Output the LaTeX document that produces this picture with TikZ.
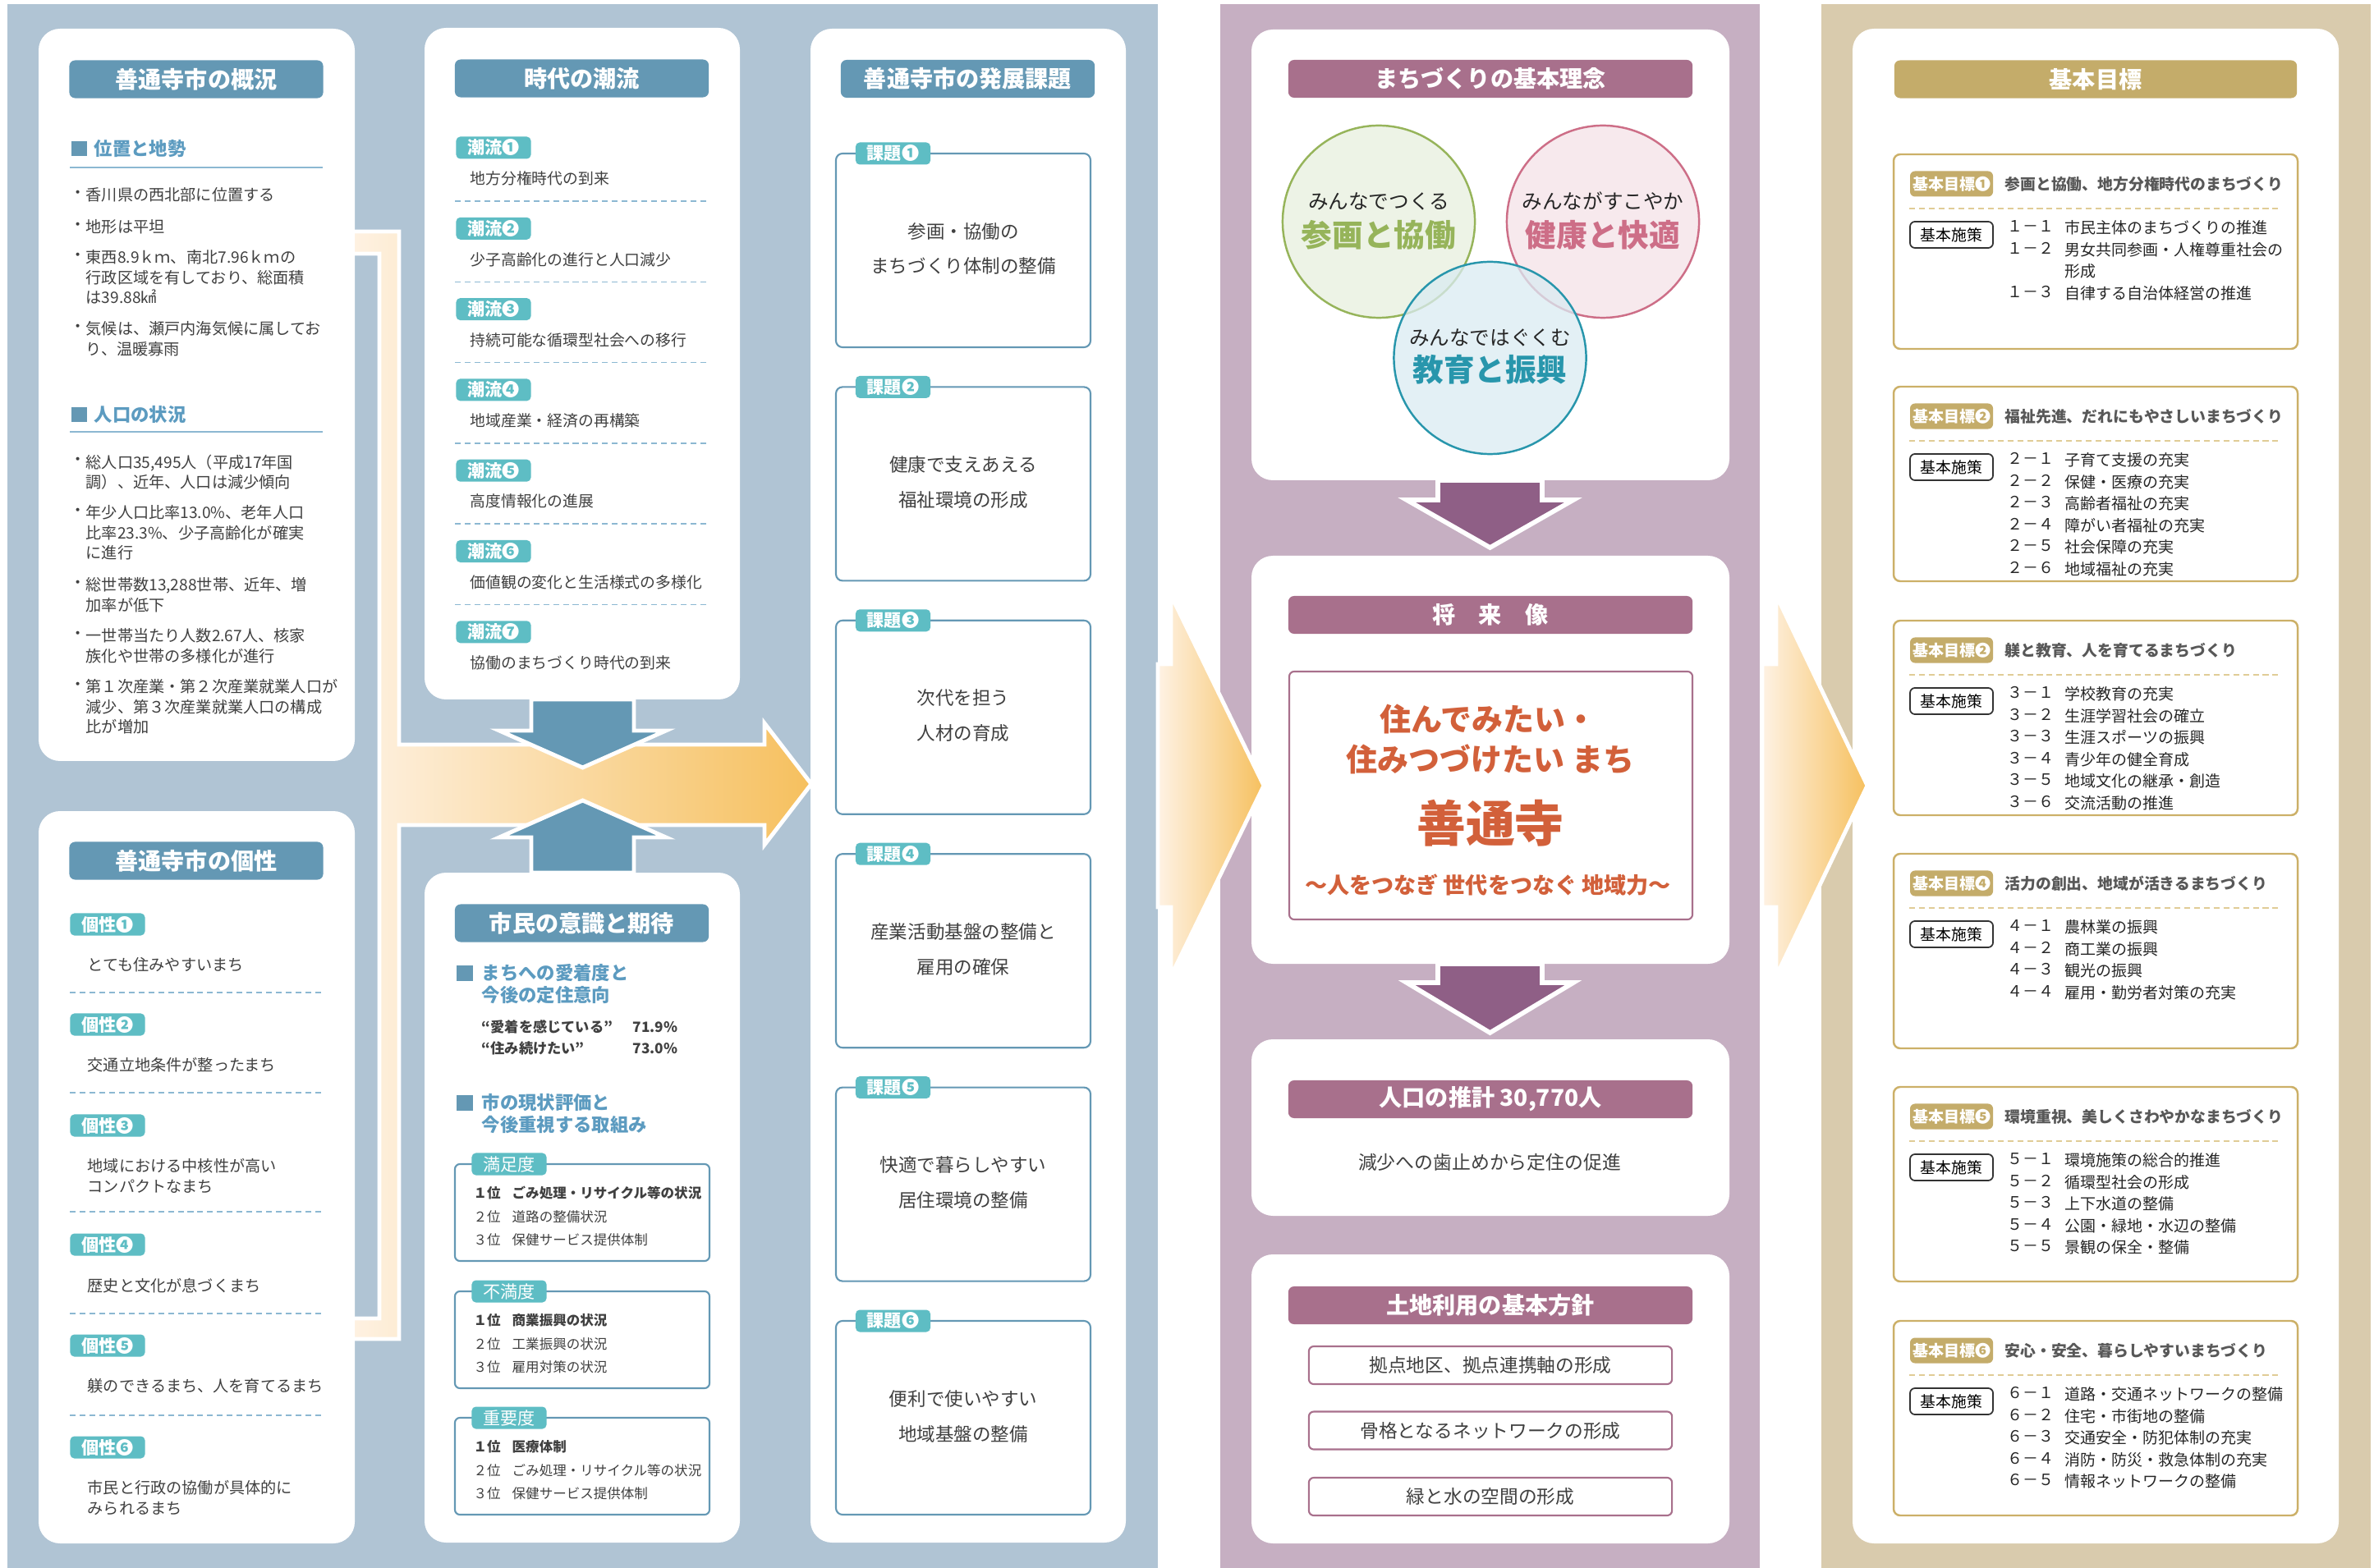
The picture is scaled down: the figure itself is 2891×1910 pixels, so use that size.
\documentclass[tikz,border=0pt]{standalone}
\usepackage{fontspec}
\setmainfont{Noto Sans CJK JP}
\usetikzlibrary{positioning,calc}

\definecolor{panelblue}{RGB}{176,196,212}
\definecolor{hdrblue}{RGB}{100,152,180}
\definecolor{tagteal}{RGB}{94,189,196}
\definecolor{secblue}{RGB}{92,155,192}
\definecolor{lineblue}{RGB}{140,184,210}
\definecolor{panelpurple}{RGB}{198,175,194}
\definecolor{hdrpurple}{RGB}{168,112,140}
\definecolor{arrowpurple}{RGB}{143,95,134}
\definecolor{visionred}{RGB}{210,96,58}
\definecolor{paneltan}{RGB}{217,203,173}
\definecolor{hdrgold}{RGB}{196,172,106}
\definecolor{boxgold}{RGB}{204,176,104}
\definecolor{dashgold}{RGB}{224,204,150}
\definecolor{textgray}{RGB}{64,64,64}
\definecolor{titlegray}{RGB}{88,88,88}
\definecolor{paleorange}{RGB}{254,242,228}
\definecolor{deeporange}{RGB}{246,192,94}
\definecolor{greenfill}{RGB}{232,240,222}
\definecolor{greenline}{RGB}{150,180,90}
\definecolor{pinkfill}{RGB}{245,226,231}
\definecolor{pinkline}{RGB}{205,110,135}
\definecolor{bluefill}{RGB}{218,235,242}
\definecolor{blueline}{RGB}{40,150,172}

\newcommand{\circnum}[1]{\ifcase#1\or ❶\or ❷\or ❸\or ❹\or ❺\or ❻\or ❼\fi}

\tikzset{
  card/.style={fill=white, rounded corners=0.26cm},
  hdr/.style={rounded corners=0.07cm, inner sep=0pt, minimum height=0.46cm, text=white,
    font=\bfseries\fontsize{8}{9.6}\selectfont},
  hdrB/.style={hdr, fill=hdrblue, minimum width=3.09cm},
  hdrP/.style={hdr, fill=hdrpurple, minimum width=4.92cm},
  hdrG/.style={hdr, fill=hdrgold, minimum width=4.9cm},
  tag/.style={fill=tagteal, rounded corners=0.05cm, inner sep=0pt, minimum width=0.91cm,
    minimum height=0.27cm, text=white, font=\bfseries\fontsize{6}{7}\selectfont},
  sec/.style={inner sep=0pt, anchor=west, text=secblue, font=\bfseries\fontsize{6.35}{7.7}\selectfont},
  secline/.style={lineblue, line width=0.4pt},
  dashline/.style={lineblue, line width=0.4pt, dash pattern=on 2pt off 1.4pt},
  body/.style={inner sep=0pt, anchor=north west, align=left, text=textgray,
    font=\fontsize{5.45}{6.97}\selectfont},
  bulletdot/.style={inner sep=0pt, text=textgray, font=\fontsize{5.45}{6.97}\selectfont},
  item/.style={inner sep=0pt, anchor=west, text=textgray, font=\fontsize{5.35}{6.4}\selectfont},
  rank/.style={inner sep=0pt, anchor=west, text=textgray, font=\fontsize{4.7}{5.6}\selectfont},
  evalbox/.style={draw=hdrblue, line width=0.6pt, rounded corners=0.06cm},
  issuebox/.style={draw=hdrblue, line width=0.6pt, rounded corners=0.08cm},
  issuetext/.style={inner sep=0pt, align=center, text=textgray, font=\fontsize{6.4}{12.2}\selectfont},
  bluearrow/.style={fill=hdrblue, draw=white, line width=1.4pt},
  purplearrow/.style={fill=arrowpurple, draw=white, line width=1.6pt},
  chevron/.style={left color=paleorange, right color=deeporange, draw=white, line width=1.4pt},
  idea/.style={circle, minimum size=2.34cm, line width=0.7pt, fill opacity=0.75},
  ideasmall/.style={inner sep=0pt, text=black!85, font=\fontsize{7}{8}\selectfont},
  ideabig/.style={inner sep=0pt, font=\bfseries\fontsize{10.7}{12}\selectfont},
  vision/.style={inner sep=0pt, text=visionred, font=\bfseries\fontsize{10.8}{13}\selectfont},
  landbox/.style={draw=hdrpurple, line width=0.6pt, rounded corners=0.06cm, minimum width=4.42cm,
    minimum height=0.46cm, inner sep=0pt, text=textgray, font=\fontsize{6.45}{7.7}\selectfont},
  goalbox/.style={draw=boxgold, line width=0.7pt, rounded corners=0.08cm},
  goaltag/.style={fill=hdrgold, rounded corners=0.06cm, inner sep=0pt, minimum width=1.01cm,
    minimum height=0.31cm, text=white, font=\bfseries\fontsize{5.4}{6.4}\selectfont},
  goaltitle/.style={inner sep=0pt, anchor=west, text=titlegray, font=\bfseries\fontsize{5.35}{6.4}\selectfont},
  goaldash/.style={dashgold, line width=0.5pt, dash pattern=on 2pt off 1.4pt},
  policy/.style={draw=black!80, fill=white, line width=0.5pt, rounded corners=0.06cm, inner sep=0pt,
    minimum width=1.01cm, minimum height=0.32cm, font=\fontsize{5.35}{6.4}\selectfont},
  goalitem/.style={inner sep=0pt, anchor=north west, align=left, text=black!85,
    font=\fontsize{5.4}{7.54}\selectfont}
}

\begin{document}
\begin{tikzpicture}[x=0.01cm, y=-0.01cm]
    \useasboundingbox (0,0) rectangle (2891,1910);
    \fill[white] (0,0) rectangle (2891,1910);

    % three coloured panels
    \fill[panelblue] (9,5) rectangle (1410,1910);
    \fill[panelpurple] (1486,5) rectangle (2143,1910);
    \fill[paneltan] (2218,5) rectangle (2887,1910);

    % bracket behind the left cards, arrow to the issues
    \draw[chevron] (420,282) -- (486,282) -- (486,907) -- (931,907) -- (931,881) -- (988,955)
        -- (931,1029) -- (931,1005) -- (486,1005) -- (486,1631) -- (420,1631) -- (420,1606)
        -- (462,1606) -- (462,309) -- (420,309) -- cycle;

    % cards
    \fill[card] (47,35) rectangle (432,927);
    \fill[card] (47,988) rectangle (432,1880);
    \fill[card] (517,34) rectangle (901,852);
    \fill[card] (517,1063) rectangle (901,1879);
    \fill[card] (987,35) rectangle (1371,1879);
    \fill[card] (1524,36) rectangle (2106,585);
    \fill[card] (1524,677) rectangle (2106,1174);
    \fill[card] (1524,1266) rectangle (2106,1481);
    \fill[card] (1524,1528) rectangle (2106,1880);
    \fill[card] (2256,35) rectangle (2848,1880);

    % block arrows
    \draw[bluearrow] (647,852) -- (772,852) -- (772,890) -- (811,890) -- (709.5,935)
        -- (608,890) -- (647,890) -- cycle;
    \draw[bluearrow] (647,1063) -- (772,1063) -- (772,1020) -- (811,1020) -- (709.5,975)
        -- (608,1020) -- (647,1020) -- cycle;
    \draw[purplearrow] (1751,585) -- (1878,585) -- (1878,609) -- (1916,609) -- (1814.5,667)
        -- (1713,609) -- (1751,609) -- cycle;
    \draw[purplearrow] (1751,1174) -- (1878,1174) -- (1878,1197) -- (1916,1197) -- (1814.5,1258)
        -- (1713,1197) -- (1751,1197) -- cycle;
    \draw[chevron] (1410,809) -- (1426,809) -- (1426,725) -- (1539,957) -- (1426,1189)
        -- (1426,1105) -- (1410,1105) -- cycle;
    \draw[chevron] (2146,809) -- (2163,809) -- (2163,725) -- (2274,957) -- (2163,1189)
        -- (2163,1105) -- (2146,1105) -- cycle;

    % headers
    \node[hdrB] (hdrOverview) at (239,96.5) {善通寺市の概況};
    \node[hdrB] (hdrTrait) at (239,1048.5) {善通寺市の個性};
    \node[hdrB] (hdrTrend) at (708.5,95.5) {時代の潮流};
    \node[hdrB] (hdrCitizen) at (708.5,1124.5) {市民の意識と期待};
    \node[hdrB] (hdrIssue) at (1178.5,96) {善通寺市の発展課題};
    \node[hdrP] (hdrIdea) at (1815,96) {まちづくりの基本理念};
    \node[hdrP] (hdrVision) at (1815,749) {将　来　像};
    \node[hdrP] (hdrPop) at (1815,1339) {人口の推計 30,770人};
    \node[hdrP] (hdrLand) at (1815,1590) {土地利用の基本方針};
    \node[hdrG] (hdrGoal) at (2552,96.5) {基本目標};

    % overview
    \fill[hdrblue] (87,172) rectangle (106,190);
    \node[sec] (secPlace) at (114,181) {位置と地勢};
    \draw[secline] (85,204) -- (393,204);
    \foreach \yy/\txt in {237/{香川県の西北部に位置する}, 276/{地形は平坦},
        313/{東西8.9ｋｍ、南北7.96ｋｍの\\行政区域を有しており、総面積\\は39.88㎢},
        400/{気候は、瀬戸内海気候に属してお\\り、温暖寡雨}}{
        \node[bulletdot] at (95,\yy) {・};
        \node[body] at (104,\yy-9) {\txt};
    }
    \fill[hdrblue] (87,496) rectangle (106,514);
    \node[sec] (secPeople) at (114,505) {人口の状況};
    \draw[secline] (85,526) -- (393,526);
    \foreach \yy/\txt in {562/{総人口35,495人（平成17年国\\調）、近年、人口は減少傾向},
        624/{年少人口比率13.0\%、老年人口\\比率23.3\%、少子高齢化が確実\\に進行},
        712/{総世帯数13,288世帯、近年、増\\加率が低下},
        774/{一世帯当たり人数2.67人、核家\\族化や世帯の多様化が進行},
        836/{第１次産業・第２次産業就業人口が\\減少、第３次産業就業人口の構成\\比が増加}}{
        \node[bulletdot] at (95,\yy) {・};
        \node[body] at (104,\yy-9) {\txt};
    }

    % traits
    \foreach \ty/\txt [count=\i] in {1126/{とても住みやすいまち}, 1248/{交通立地条件が整ったまち},
        1371/{地域における中核性が高い\\コンパクトなまち}, 1516/{歴史と文化が息づくまち},
        1639/{躾のできるまち、人を育てるまち}, 1763/{市民と行政の協働が具体的に\\みられるまち}}{
        \node[tag] (trait\i) at (131,\ty) {個性\circnum{\i}};
        \node[body] at (106,\ty+40) {\txt};
    }
    \foreach \yy in {1209,1331,1476,1600,1724}
        \draw[dashline] (85,\yy) -- (393,\yy);

    % trends
    \foreach \txt [count=\i] in {地方分権時代の到来, 少子高齢化の進行と人口減少,
        持続可能な循環型社会への移行, 地域産業・経済の再構築, 高度情報化の進展,
        価値観の変化と生活様式の多様化, 協働のまちづくり時代の到来}{
        \pgfmathsetmacro{\yy}{180+(\i-1)*98.3}
        \node[tag] (trend\i) at (601,\yy) {潮流\circnum{\i}};
        \node[item] at (572,\yy+37.6) {\txt};
        \ifnum\i<7 \draw[dashline] (554,\yy+65) -- (863,\yy+65); \fi
    }

    % citizens' survey
    \fill[hdrblue] (556,1176) rectangle (576,1195);
    \node[sec, anchor=north west, align=left] (secLove) at (586,1174) {まちへの愛着度と\\今後の定住意向};
    \node[rank, font=\bfseries\fontsize{4.9}{5.8}\selectfont] (loveA) at (586,1251) {“愛着を感じている”};
    \node[rank, font=\bfseries\fontsize{4.9}{5.8}\selectfont] (loveAv) at (770,1251) {71.9\%};
    \node[rank, font=\bfseries\fontsize{4.9}{5.8}\selectfont] (loveB) at (586,1277) {“住み続けたい”};
    \node[rank, font=\bfseries\fontsize{4.9}{5.8}\selectfont] (loveBv) at (770,1277) {73.0\%};
    \fill[hdrblue] (556,1334) rectangle (576,1353);
    \node[sec, anchor=north west, align=left] (secEval) at (586,1332) {市の現状評価と\\今後重視する取組み};
    \foreach \yt/\lab/\ra/\rb/\rc [count=\i] in {1418/満足度/{ごみ処理・リサイクル等の状況}/{道路の整備状況}/{保健サービス提供体制},
        1573/不満度/{商業振興の状況}/{工業振興の状況}/{雇用対策の状況},
        1727/重要度/{医療体制}/{ごみ処理・リサイクル等の状況}/{保健サービス提供体制}}{
        \draw[evalbox] (554,\yt) rectangle (864,\yt+118);
        \node[tag, font=\fontsize{6}{7}\selectfont] (eval\i) at (620,\yt) {\lab};
        \node[rank, font=\bfseries\fontsize{4.7}{5.6}\selectfont] at (576,\yt+35) {１位};
        \node[rank, font=\bfseries\fontsize{4.7}{5.6}\selectfont] at (623,\yt+35) {\ra};
        \node[rank] at (576,\yt+64) {２位};
        \node[rank] at (623,\yt+64) {\rb};
        \node[rank] at (576,\yt+92) {３位};
        \node[rank] at (623,\yt+92) {\rc};
    }

    % issues
    \foreach \txt [count=\i] in {{参画・協働の\\まちづくり体制の整備}, {健康で支えあえる\\福祉環境の形成},
        {次代を担う\\人材の育成}, {産業活動基盤の整備と\\雇用の確保},
        {快適で暮らしやすい\\居住環境の整備}, {便利で使いやすい\\地域基盤の整備}}{
        \pgfmathsetmacro{\yt}{187+(\i-1)*284.4}
        \draw[issuebox] (1018,\yt) rectangle (1328,\yt+236);
        \node[tag] (issue\i) at (1087.5,\yt) {課題\circnum{\i}};
        \node[issuetext] (issueT\i) at (1173,\yt+116) {\txt};
    }

    % basic ideas
    \node[idea, fill=greenfill, draw=greenline] (ideaG) at (1679,270) {};
    \node[idea, fill=pinkfill, draw=pinkline] (ideaP) at (1952,270) {};
    \node[idea, fill=bluefill, draw=blueline] (ideaB) at (1814.5,436) {};
    \node[ideasmall] (ideaGs) at (1679,245) {みんなでつくる};
    \node[ideabig, text=greenline] (ideaGb) at (1679,286) {参画と協働};
    \node[ideasmall] (ideaPs) at (1952,245) {みんながすこやか};
    \node[ideabig, text=pinkline] (ideaPb) at (1952,286) {健康と快適};
    \node[ideasmall] (ideaBs) at (1814.5,411) {みんなではぐくむ};
    \node[ideabig, text=blueline] (ideaBb) at (1814.5,450) {教育と振興};

    % vision
    \draw[hdrpurple, line width=0.6pt, rounded corners=0.06cm] (1570,818) rectangle (2061,1120);
    \node[vision] (vis1) at (1812,876) {住んでみたい・};
    \node[vision] (vis2) at (1815,925) {住みつづけたい まち};
    \node[vision, font=\bfseries\fontsize{17}{20}\selectfont] (vis3) at (1815,1003) {善通寺};
    \node[vision, font=\bfseries\fontsize{7.7}{9}\selectfont] (vis4) at (1812,1078) {～人をつなぎ 世代をつなぐ 地域力～};

    % population and land use
    \node[item, anchor=center, font=\fontsize{6.5}{7.7}\selectfont] (popT) at (1814,1416) {減少への歯止めから定住の促進};
    \node[landbox] (land1) at (1815,1663) {拠点地区、拠点連携軸の形成};
    \node[landbox] (land2) at (1815,1742.5) {骨格となるネットワークの形成};
    \node[landbox] (land3) at (1815,1823) {緑と水の空間の形成};

    % basic goals
    \foreach \T/\lab/\ttl/\nums/\txts [count=\i] in {
        188/1/{参画と協働、地方分権時代のまちづくり}/{１－１\\１－２\\\\１－３}/{市民主体のまちづくりの推進\\男女共同参画・人権尊重社会の\\形成\\自律する自治体経営の推進},
        471/2/{福祉先進、だれにもやさしいまちづくり}/{２－１\\２－２\\２－３\\２－４\\２－５\\２－６}/{子育て支援の充実\\保健・医療の充実\\高齢者福祉の充実\\障がい者福祉の充実\\社会保障の充実\\地域福祉の充実},
        756/2/{躾と教育、人を育てるまちづくり}/{３－１\\３－２\\３－３\\３－４\\３－５\\３－６}/{学校教育の充実\\生涯学習社会の確立\\生涯スポーツの振興\\青少年の健全育成\\地域文化の継承・創造\\交流活動の推進},
        1040/4/{活力の創出、地域が活きるまちづくり}/{４－１\\４－２\\４－３\\４－４}/{農林業の振興\\商工業の振興\\観光の振興\\雇用・勤労者対策の充実},
        1324/5/{環境重視、美しくさわやかなまちづくり}/{５－１\\５－２\\５－３\\５－４\\５－５}/{環境施策の総合的推進\\循環型社会の形成\\上下水道の整備\\公園・緑地・水辺の整備\\景観の保全・整備},
        1609/6/{安心・安全、暮らしやすいまちづくり}/{６－１\\６－２\\６－３\\６－４\\６－５}/{道路・交通ネットワークの整備\\住宅・市街地の整備\\交通安全・防犯体制の充実\\消防・防災・救急体制の充実\\情報ネットワークの整備}}{
        \draw[goalbox] (2306,\T) rectangle (2798,\T+237);
        \node[goaltag] (goal\i) at (2376.5,\T+36) {基本目標\circnum{\lab}};
        \node[goaltitle] (goalT\i) at (2441,\T+36) {\ttl};
        \draw[goaldash] (2325,\T+66) -- (2777,\T+66);
        \node[policy] (policy\i) at (2376.5,\T+98) {基本施策};
        \node[goalitem] at (2444,\T+80) {\nums};
        \node[goalitem] at (2514,\T+80) {\txts};
    }
\end{tikzpicture}
\end{document}
